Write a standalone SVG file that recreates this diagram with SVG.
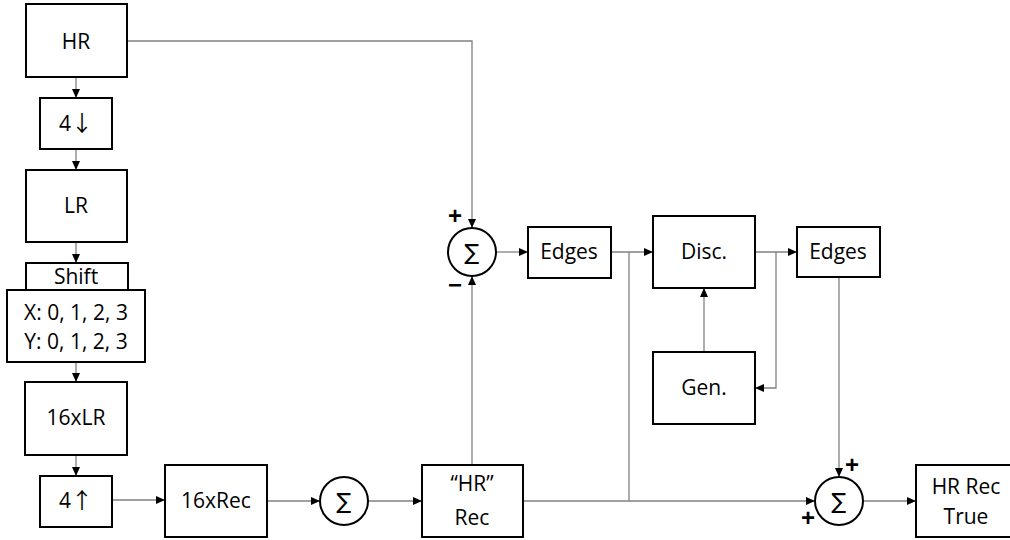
<svg xmlns="http://www.w3.org/2000/svg" width="1010" height="540" viewBox="0 0 1010 540">
<defs>
<marker id="arr" markerUnits="userSpaceOnUse" markerWidth="10" markerHeight="10" refX="9" refY="4" orient="auto">
<path d="M0,0 L9,4 L0,8 z" fill="#000"/>
</marker>
<style>
.box{fill:#fff;stroke:#000;stroke-width:2}
.t{font-family:"Open Sans","Liberation Sans",sans-serif;font-size:21px;fill:#000;text-anchor:middle}
.ar{font-family:"Noto Sans CJK SC","DejaVu Sans",sans-serif;font-size:22px}
.c{fill:none;stroke:#808080;stroke-width:1.3}
.a{marker-end:url(#arr)}
.sg{font-family:"Noto Sans","DejaVu Sans",sans-serif;font-size:22px;fill:#000;text-anchor:middle}
.pm{font-family:"Liberation Sans",sans-serif;font-size:24px;font-weight:bold;fill:#000;text-anchor:middle}
</style>
</defs>
<g id="connectors">
<line class="c a" x1="76" y1="77" x2="76" y2="98"/>
<line class="c a" x1="76" y1="149" x2="76" y2="170"/>
<line class="c a" x1="76" y1="242" x2="76" y2="263"/>
<line class="c a" x1="76" y1="362" x2="76" y2="382"/>
<line class="c a" x1="76" y1="455" x2="76" y2="476"/>
<line class="c a" x1="112" y1="500" x2="165" y2="500"/>
<line class="c a" x1="267" y1="501" x2="320" y2="501"/>
<line class="c a" x1="368" y1="501" x2="422" y2="501"/>
<path class="c a" d="M127,41 H472 V228"/>
<path class="c a" d="M472,465 V276"/>
<line class="c a" x1="496" y1="252" x2="528" y2="252"/>
<line class="c a" x1="611" y1="252" x2="653" y2="252"/>
<path class="c" d="M629,252 V501"/>
<line class="c a" x1="755" y1="252" x2="797" y2="252"/>
<path class="c a" d="M776,252 V388 H755"/>
<line class="c a" x1="704" y1="352" x2="704" y2="288"/>
<path class="c a" d="M839,277 V477"/>
<path class="c a" d="M523,501 H815"/>
<line class="c a" x1="863" y1="501" x2="916" y2="501"/>
</g>
<g id="hr"><rect class="box" x="26" y="4" width="101" height="73"/><text class="t" x="76" y="49">HR</text></g>
<g id="down4"><rect class="box" x="40" y="98" width="72" height="51"/><text class="t" x="76" y="131">4<tspan class="ar">↓</tspan></text></g>
<g id="lr"><rect class="box" x="26" y="170" width="101" height="72"/><text class="t" x="76" y="213">LR</text></g>
<g id="shift"><rect class="box" x="26" y="263" width="102" height="27"/><text class="t" x="76" y="284">Shift</text></g>
<g id="xy"><rect class="box" x="7" y="290" width="138" height="72"/><text class="t" x="76" y="320">X: 0, 1, 2, 3</text><text class="t" x="76" y="349">Y: 0, 1, 2, 3</text></g>
<g id="lr16"><rect class="box" x="25" y="382" width="102" height="73"/><text class="t" x="76" y="425">16xLR</text></g>
<g id="up4"><rect class="box" x="40" y="476" width="72" height="51"/><text class="t" x="76" y="508">4<tspan class="ar">↑</tspan></text></g>
<g id="rec16"><rect class="box" x="165" y="465" width="102" height="72"/><text class="t" x="216" y="508">16xRec</text></g>
<g id="sum1"><circle class="box" cx="344" cy="501" r="24" stroke-width="1.6"/><text class="sg" x="344" y="509">∑</text></g>
<g id="hrrec"><rect class="box" x="422" y="465" width="101" height="72"/><text class="t" x="472" y="491">“HR”</text><text class="t" x="472" y="525">Rec</text></g>
<g id="sum2"><circle class="box" cx="472" cy="252" r="24" stroke-width="1.6"/><text class="sg" x="472" y="260">∑</text><text class="pm" x="455" y="224">+</text><text class="pm" x="455" y="293">−</text></g>
<g id="edges1"><rect class="box" x="528" y="227" width="83" height="51"/><text class="t" x="569" y="259">Edges</text></g>
<g id="disc"><rect class="box" x="653" y="216" width="102" height="72"/><text class="t" x="704" y="259">Disc.</text></g>
<g id="edges2"><rect class="box" x="797" y="227" width="83" height="50"/><text class="t" x="838" y="259">Edges</text></g>
<g id="gen"><rect class="box" x="653" y="352" width="102" height="72"/><text class="t" x="704" y="395">Gen.</text></g>
<g id="sum3"><circle class="box" cx="839" cy="501" r="24" stroke-width="1.6"/><text class="sg" x="839" y="509">∑</text><text class="pm" x="852" y="473">+</text><text class="pm" x="808" y="526">+</text></g>
<g id="hrtrue"><rect class="box" x="916" y="465" width="102" height="72"/><text class="t" x="966" y="494">HR Rec</text><text class="t" x="966" y="524">True</text></g>
</svg>
